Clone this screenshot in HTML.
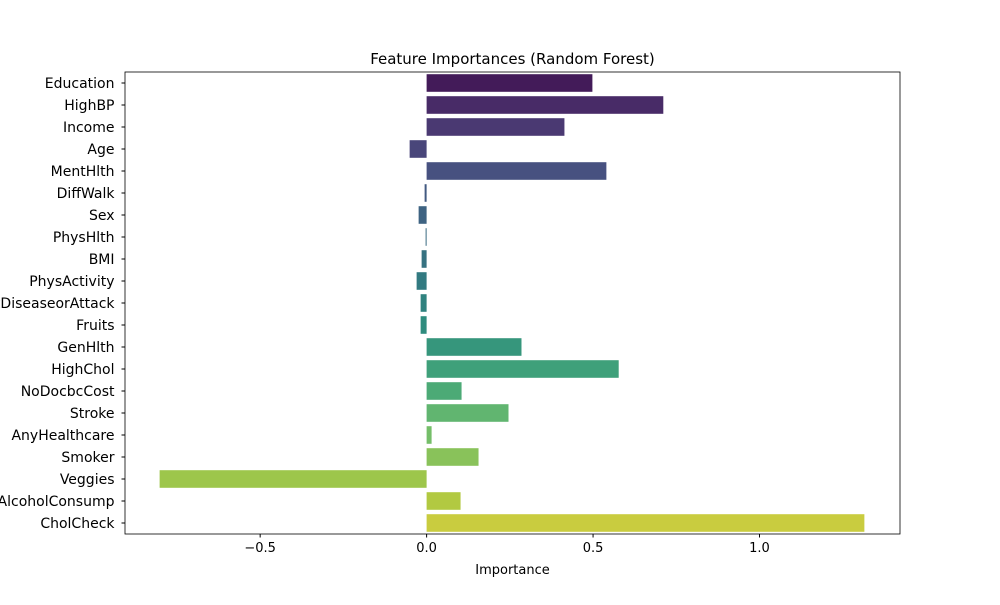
<!DOCTYPE html>
<html><head><meta charset="utf-8"><style>
body{margin:0;background:#fff}
svg text{font-family:"DejaVu Sans","Liberation Sans",sans-serif;font-size:13px;fill:#000}
svg text.yl{font-size:14px}
</style></head><body>
<svg id="chart" width="1000" height="600" viewBox="0 0 1000 600" xmlns="http://www.w3.org/2000/svg">
<text x="512.5" y="64" text-anchor="middle" style="font-size:15px">Feature Importances (Random Forest)</text>
<g id="bars"></g>
<g id="axes"></g>
<text x="512.5" y="574" text-anchor="middle">Importance</text>
</svg>
<script>
const features = ["Education","HighBP","Income","Age","MentHlth","DiffWalk","Sex","PhysHlth","BMI","PhysActivity","HeartDiseaseorAttack","Fruits","GenHlth","HighChol","NoDocbcCost","Stroke","AnyHealthcare","Smoker","Veggies","AlcoholConsump","CholCheck"];
const importances = [0.498,0.711,0.414,-0.051,0.54,-0.006,-0.024,-0.003,-0.015,-0.03,-0.018,-0.018,0.285,0.577,0.105,0.246,0.015,0.156,-0.802,0.102,1.315];
const xTicks = [-0.5,0.0,0.5,1.0];
const xTickLabels = ["\u22120.5","0.0","0.5","1.0"];

const L=125,R=900,T=72,B=534;
const xMin=-0.906,xMax=1.422;
const xs=v=>L+(v-xMin)/(xMax-xMin)*(R-L);
const band=(B-T)/features.length;
const ys=i=>T+band*i+band/2;
const NS="http://www.w3.org/2000/svg";
const stops=[[68,1,84],[72,40,120],[62,74,137],[49,104,142],[38,130,142],[31,158,137],[53,183,121],[109,205,89],[180,222,44],[253,231,37]];
function desat(c,f){let [r,g,b]=c.map(v=>v/255);const mx=Math.max(r,g,b),mn=Math.min(r,g,b),l=(mx+mn)/2;
 if(mx===mn)return c;const d=mx-mn;let s=l>0.5?d/(2-mx-mn):d/(mx+mn);let h;
 if(mx===r)h=((g-b)/d+(g<b?6:0));else if(mx===g)h=(b-r)/d+2;else h=(r-g)/d+4;h/=6;s*=f;
 const q=l<0.5?l*(1+s):l+s-l*s,p=2*l-q;
 const hk=t=>{if(t<0)t+=1;if(t>1)t-=1;if(t<1/6)return p+(q-p)*6*t;if(t<1/2)return q;if(t<2/3)return p+(q-p)*(2/3-t)*6;return p;};
 return [hk(h+1/3),hk(h),hk(h-1/3)].map(v=>Math.round(v*255));}
function viridis(t){const p=t*(stops.length-1),i=Math.min(Math.floor(p),stops.length-2),f=p-i;
 const c=stops[i].map((a,k)=>a+(stops[i+1][k]-a)*f);return `rgb(${desat(c,0.75).join(',')})`;}
const bars=document.getElementById('bars'),axes=document.getElementById('axes');
const n=features.length;
features.forEach((f,i)=>{
 const v=importances[i];const x0=xs(0),x1=xs(v);
 const r=document.createElementNS(NS,'rect');
 
 
 r.setAttribute('x',Math.min(x0,x1));r.setAttribute('width',Math.abs(x1-x0));
 r.setAttribute('y',ys(i)-band*0.4);r.setAttribute('height',band*0.8);
 r.setAttribute('fill',viridis((i+1)/(n+1)));
 bars.appendChild(r);
 const tk=document.createElementNS(NS,'line');
 
 
 tk.setAttribute('x1',L-3.5);tk.setAttribute('x2',L);tk.setAttribute('y1',ys(i));tk.setAttribute('y2',ys(i));tk.setAttribute('stroke','#000');
 axes.appendChild(tk);
 const t=document.createElementNS(NS,'text');
 
 
 t.setAttribute('class','yl');
 t.setAttribute('x',L-10.5);t.setAttribute('y',ys(i)+5);t.setAttribute('text-anchor','end');t.textContent=f;
 axes.appendChild(t);
});
xTicks.forEach((v,i)=>{
 const tk=document.createElementNS(NS,'line');
 
 
 tk.setAttribute('x1',xs(v));tk.setAttribute('x2',xs(v));tk.setAttribute('y1',B);tk.setAttribute('y2',B+3.5);tk.setAttribute('stroke','#000');
 axes.appendChild(tk);
 const t=document.createElementNS(NS,'text');
 
 
 t.setAttribute('x',xs(v));t.setAttribute('y',B+18);t.setAttribute('text-anchor','middle');t.textContent=xTickLabels[i];
 axes.appendChild(t);
});
const fr=document.createElementNS(NS,'rect');


fr.setAttribute('x',L);fr.setAttribute('y',T);fr.setAttribute('width',R-L);fr.setAttribute('height',B-T);
fr.setAttribute('fill','none');fr.setAttribute('stroke','#000');fr.setAttribute('stroke-width','0.8');
axes.appendChild(fr);
</script>
</body></html>
